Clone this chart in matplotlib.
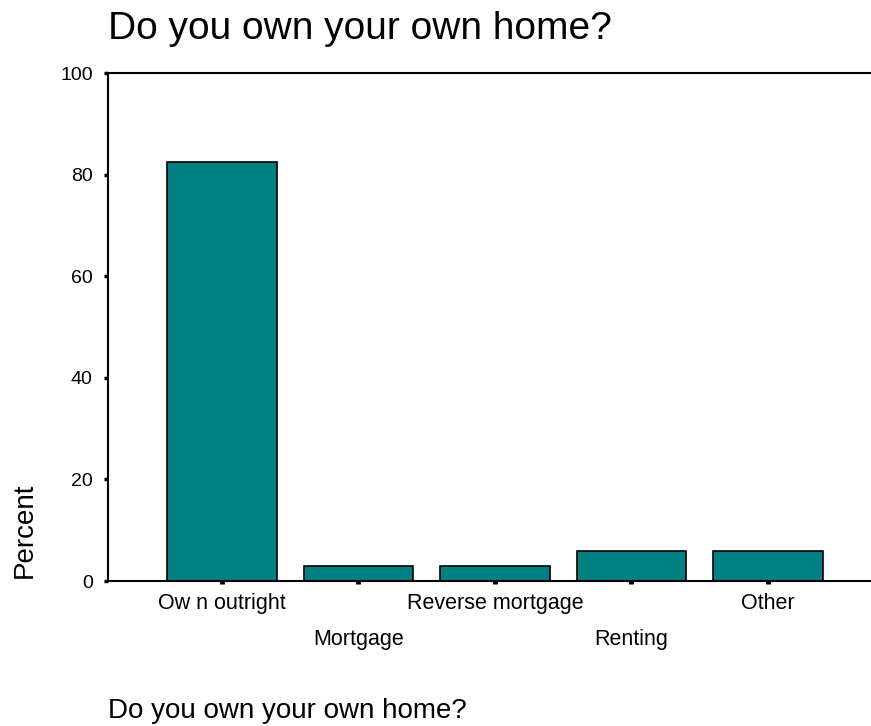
import matplotlib.pyplot as plt
import numpy as np

plt.rcParams['font.family'] = ['Liberation Sans', 'DejaVu Sans']

# datos
categorias = ['Ow n outright', 'Mortgage', 'Reverse mortgage', 'Renting', 'Other']
porcentaje = [82.4, 2.9, 2.9, 5.9, 5.9]
yticks = [0, 20, 40, 60, 80, 100]
titulo = 'Do you own your own home?'

fig = plt.figure(figsize=(8.71, 7.26), dpi=100)
ax = fig.add_axes([108 / 871, 145 / 726, 1 - 108 / 871, 508 / 726])

x = np.arange(len(categorias))
ax.bar(x, porcentaje, width=0.8, color='#008080', edgecolor='black', linewidth=1.2)

ax.set_xlim(-0.835, 4.755)
ax.set_ylim(0, 100)
ax.set_yticks(yticks)
ax.set_xticks(x)
ax.set_xticklabels(categorias)

for lado in ['left', 'bottom', 'top']:
    ax.spines[lado].set_linewidth(1.5)
ax.spines['right'].set_visible(False)

ax.tick_params(axis='y', length=3, width=2.5, pad=8, labelsize=14, direction='out')
ax.tick_params(axis='x', length=2.5, width=3.5, pad=6, labelsize=15.5, direction='out')

# etiquetas escalonadas
for i, tick in enumerate(ax.xaxis.get_major_ticks()):
    if i % 2 == 1:
        tick.set_pad(32)

fig.text(108 / 871, 1 - 39 / 726, titulo, fontsize=28, va='baseline', ha='left')
fig.text(25 / 871, 1 - 530 / 726, 'Percent', fontsize=20, rotation=90, va='center', ha='center')
fig.text(108 / 871, 1 - 718 / 726, titulo, fontsize=20, va='baseline', ha='left')

fig.savefig('out.png', dpi=100)
